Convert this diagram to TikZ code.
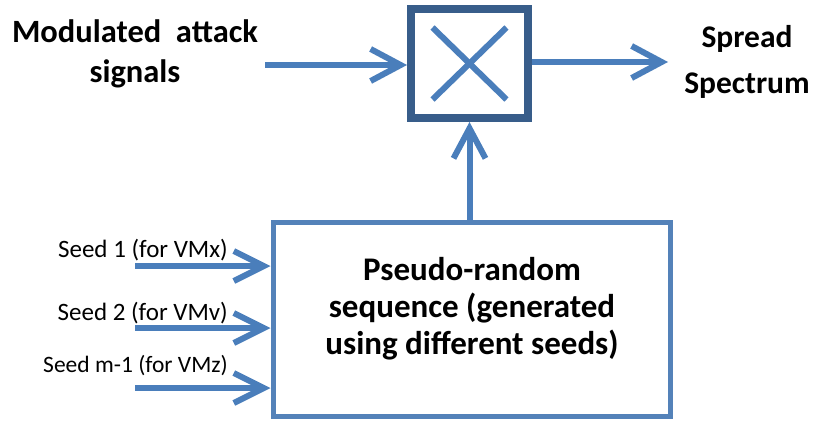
\documentclass[tikz,border=0pt]{standalone}
\usepackage{fontspec}
\setmainfont{Carlito}
\usetikzlibrary{arrows.meta,calc}
\definecolor{flowblue}{RGB}{74,126,187}
\definecolor{mixblue}{RGB}{56,93,138}
\definecolor{genblue}{RGB}{84,130,185}
\tikzset{
  flow/.style={draw=flowblue, line width=6pt,
    -{Straight Barb[length=30pt,width=32pt]}},
  seedflow/.style={draw=flowblue, line width=6pt,
    -{Straight Barb[length=30pt,width=30pt]}},
  mixer/.style={draw=mixblue, line width=8pt, fill=white,
    minimum width=117pt, minimum height=109pt, inner sep=0pt},
  genbox/.style={draw=genblue, line width=5pt, fill=white,
    minimum width=397pt, minimum height=194pt, inner sep=0pt},
  bigtext/.style={font=\bfseries\fontsize{32.5}{40}\selectfont, align=center, inner sep=0pt},
  seedtext/.style={font=\fontsize{25}{28}\selectfont, inner sep=0pt, anchor=base east},
}
\begin{document}
\begin{tikzpicture}[x=1pt, y=-1pt]
\useasboundingbox (0,0) rectangle (814,421);

% multiplier block with its cross
\node[mixer] (mix) at (469.5,63.5) {};
\draw[flowblue, line width=6pt] ($(mix.center)+(-37,-36)$) -- ($(mix.center)+(37,36)$);
\draw[flowblue, line width=6pt] ($(mix.center)+(37,-36)$) -- ($(mix.center)+(-37,36)$);

% pseudo-random sequence generator
\node[genbox] (gen) at (471.5,319) {};
\node[bigtext, font=\bfseries\fontsize{33}{37}\selectfont, anchor=base] (gentext) at (472,354)
  {Pseudo-random\\sequence (generated\\using different seeds)};

% input and output labels (anchored at the baseline of their last line)
\node[bigtext, anchor=base] (inlabel) at (135,82) {Modulated\ \ attack\\signals};
\node[bigtext, font=\bfseries\fontsize{31.5}{46}\selectfont, anchor=base] (outlabel) at (747,93) {Spread\\Spectrum};

% seed labels
\node[seedtext] (seed1) at (228,257) {Seed 1 (for VMx)};
\node[seedtext] (seed2) at (228,320) {Seed 2 (for VMv)};
\node[seedtext, font=\fontsize{23.5}{28}\selectfont] (seed3) at (228,372) {Seed m-1 (for VMz)};

% connectors
\coordinate (insrc) at (265,65);
\coordinate (outend) at (668,62);
\coordinate (s1) at (135,266);
\coordinate (s2) at (135,328);
\coordinate (s3) at (135,388);

\draw[flow] (insrc) -- (insrc -| mix.west);
\draw[flow] (mix.east |- outend) -- (outend);
\draw[flow] (mix.south |- gen.north) -- (mix.south);
\draw[seedflow] (s1) -- (s1 -| gen.west);
\draw[seedflow] (s2) -- (s2 -| gen.west);
\draw[seedflow] (s3) -- (s3 -| gen.west);
\end{tikzpicture}
\end{document}
